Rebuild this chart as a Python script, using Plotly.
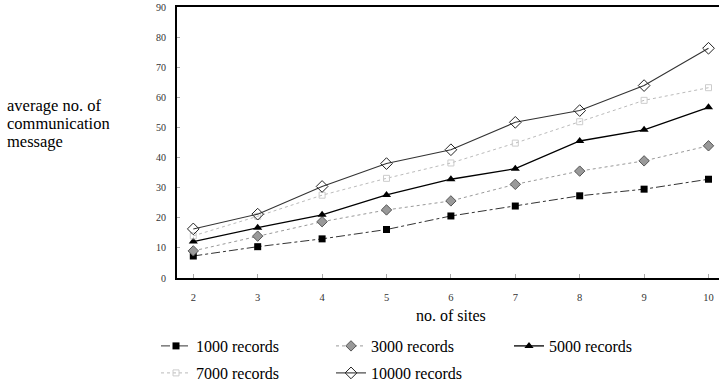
import plotly.graph_objects as go

sites = [2, 3, 4, 5, 6, 7, 8, 9, 10]
rec_1000 = [7.3, 10.4, 13.0, 16.1, 20.6, 23.9, 27.3, 29.5, 32.8]
rec_3000 = [9.0, 13.9, 18.7, 22.6, 25.6, 31.1, 35.5, 38.9, 43.9]
rec_5000 = [12.1, 16.7, 21.0, 27.6, 32.8, 36.3, 45.5, 49.2, 56.7]
rec_7000 = [14.0, 20.5, 27.5, 33.1, 38.2, 44.8, 51.9, 59.0, 63.2]
rec_10000 = [16.3, 21.2, 30.4, 38.0, 42.6, 51.7, 55.6, 63.9, 76.3]
y_ticks = [0, 10, 20, 30, 40, 50, 60, 70, 80, 90]
names = ["1000 records", "3000 records", "5000 records", "7000 records", "10000 records"]
y_title_lines = ["average no. of", "communication", "message"]

SERIF = "Liberation Serif, Times New Roman, serif"

fig = go.Figure()
styles = [
    (rec_1000, dict(color="#333", width=1, dash="dashdot"), dict(symbol="square", size=7, color="black"), "legend"),
    (rec_3000, dict(color="#999", width=1, dash="dot"), dict(symbol="diamond", size=8, color="#999", line=dict(color="#555", width=1)), "legend2"),
    (rec_5000, dict(color="black", width=1.3), dict(symbol="triangle-up", size=8, color="black"), "legend3"),
    (rec_7000, dict(color="#bbb", width=1, dash="dot"), dict(symbol="square-open", size=6, color="#ccc"), "legend4"),
    (rec_10000, dict(color="#333", width=1.1), dict(symbol="diamond-open", size=9, color="#222", line=dict(width=1)), "legend5"),
]
for name, (vals, line, marker, lg) in zip(names, styles):
    fig.add_trace(go.Scatter(x=sites, y=vals, mode="lines+markers", name=name,
                             line=line, marker=marker, legend=lg))

W, H = 720, 383
L, R, T, B = 177, 1, 7, 105
PW, PH = W - L - R, H - T - B


def px_x(px):
    return (px - L) / PW


def px_y(py):
    return (H - B - py) / PH


leg_pos = {"legend": (156, 346), "legend2": (331, 346), "legend3": (509, 346),
           "legend4": (156, 373), "legend5": (331, 373)}
legends = {}
for key, (px, py) in leg_pos.items():
    legends[key] = dict(x=px / W, y=1 - py / H, xref="container", yref="container",
                        xanchor="left", yanchor="middle", bgcolor="rgba(0,0,0,0)",
                        font=dict(family=SERIF, size=16, color="black"))

annotations = [
    dict(text="no. of sites", x=px_x(451), y=px_y(315), xref="paper", yref="paper",
         showarrow=False, font=dict(family=SERIF, size=16, color="black"),
         xanchor="center", yanchor="middle"),
]
for txt, py in zip(y_title_lines, [105, 123, 141]):
    annotations.append(dict(text=txt, x=px_x(5), y=px_y(py), xref="paper", yref="paper",
                            showarrow=False, align="left",
                            font=dict(family=SERIF, size=16.5, color="black"),
                            xanchor="left", yanchor="middle"))

fig.update_layout(
    width=W, height=H,
    margin=dict(l=L, r=R, t=T, b=B, autoexpand=False),
    plot_bgcolor="white", paper_bgcolor="white",
    showlegend=True,
    **legends,
    xaxis=dict(range=[1.747, 10.163], tickvals=sites, ticks="inside", ticklen=4,
               tickcolor="#aaa", showgrid=False, zeroline=False, showline=True,
               linecolor="black", linewidth=2, mirror=True, automargin=False,
               tickfont=dict(family=SERIF, size=10.5, color="#333"), ticklabelstandoff=8),
    yaxis=dict(range=[0, 90], tickvals=y_ticks, ticks="inside", ticklen=3,
               tickcolor="#aaa", showgrid=False, zeroline=False, showline=True,
               linecolor="black", linewidth=2, automargin=False,
               tickfont=dict(family=SERIF, size=10, color="#333"), ticklabelstandoff=7),
    annotations=annotations,
)

fig.write_html("out.html", config={"displayModeBar": False},
               post_script="document.body.style.margin='0px';document.body.style.overflow='hidden';")
